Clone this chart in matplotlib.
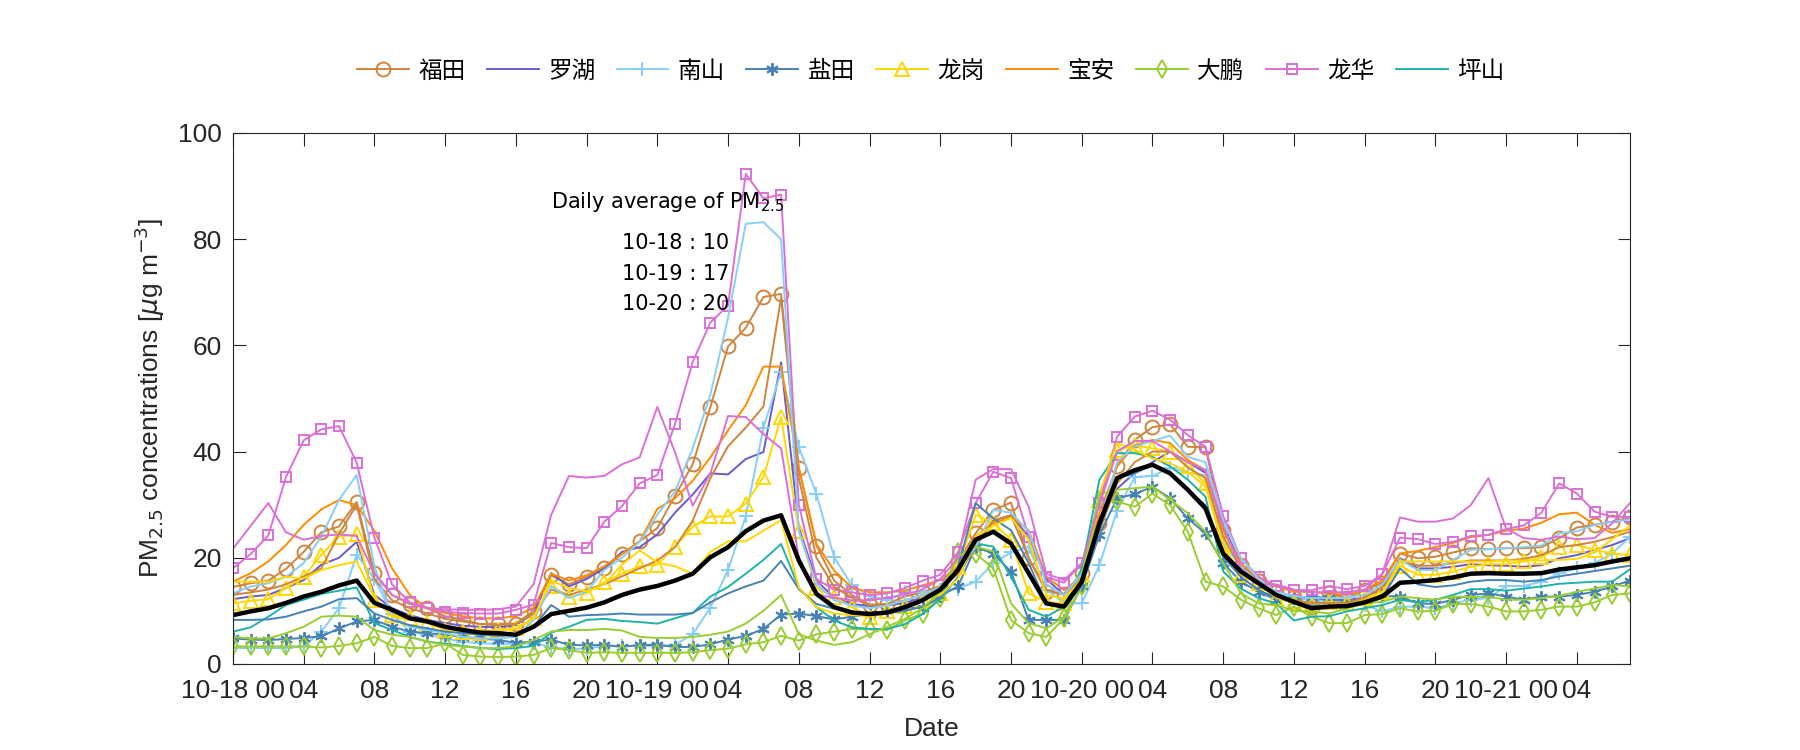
import matplotlib
matplotlib.use("Agg")
import matplotlib.pyplot as plt
import numpy as np

# ---- data (hourly PM2.5, 10-18 00 .. 10-21 07) ----
hours = np.arange(80)
days = ['10-18', '10-19', '10-20', '10-21']

futian = [14.5, 15.2, 15.7, 17.9, 21.1, 24.8, 25.9, 30.5, 17.2,
          13.0, 11.3, 10.5, 9.0, 8.3, 7.5, 7.6, 7.6, 10.0,
          16.7, 15.0, 16.4, 18.0, 20.7, 23.1, 25.6, 31.7, 37.6, 48.4, 59.8, 63.3, 69.1, 69.7,
          36.9, 22.3, 15.7, 13.0, 11.2, 11.3, 12.7, 13.5, 14.7,
          19.3, 24.6, 29.0, 30.4, 19.9, 13.6, 13.2, 17.1, 26.6, 37.3, 42.2, 44.6, 45.1, 40.9, 40.8, 25.2, 18.6, 15.7,
          13.6, 12.7, 10.8, 13.3, 12.4, 13.9, 15.3, 20.8, 19.9, 20.2, 21.0, 21.8, 21.6, 21.8, 21.8, 22.0, 23.7, 25.7, 26.2, 26.8, 27.6]
luohu = [12.2, 12.7, 13.0, 14.3, 15.8, 18.7, 20.0, 23.0, 13.0,
         10.5, 9.2, 8.3, 7.7, 7.2, 7.0, 6.9, 7.3, 9.5,
         17.1, 14.6, 16.0, 18.0, 21.1, 22.0, 24.4, 28.5, 31.9, 35.9, 35.7, 38.6, 39.9, 56.8,
         25.7, 15.7, 12.5, 11.3, 10.9, 11.0, 11.5, 12.5, 14.0,
         18.0, 23.0, 27.0, 28.0, 24.0, 16.0, 13.0, 17.0, 27.0, 33.0, 36.0, 38.0, 40.0, 38.0, 36.0, 26.0, 19.0, 15.0,
         13.5, 12.5, 12.2, 12.0, 12.0, 12.5, 14.0, 19.9, 18.0, 18.0, 18.3, 18.8, 18.6, 18.5, 18.3, 18.6, 19.9, 20.5, 21.5, 22.4, 23.7]
nanshan = [3.0, 3.0, 3.0, 3.0, 3.3, 6.1, 10.5, 20.6, 16.0,
           9.5, 6.1, 5.5, 4.8, 4.2, 3.9, 3.8, 3.8, 3.9,
           3.2, 2.8, 2.9, 3.4, 3.4, 3.4, 3.4, 3.6, 5.6, 10.6, 17.7, 27.8, 44.5, 55.0,
           40.9, 32.0, 20.1, 14.8, 12.8, 12.0, 13.5, 13.5, 13.9,
           14.2, 15.5, 19.0, 21.0, 22.0, 14.0, 11.5, 11.4, 18.6, 28.9, 35.2, 35.4, 37.0, 36.0, 35.6, 22.7, 18.3, 15.5,
           13.3, 12.7, 12.1, 11.7, 11.7, 11.1, 9.9, 10.8, 10.8, 10.5, 11.4, 12.1, 12.4, 14.7, 14.7, 15.5, 17.1, 18.0, 19.0, 20.8, 23.9]
yantian = [4.8, 4.6, 4.5, 4.7, 4.9, 5.2, 6.7, 8.0, 8.3,
           7.0, 6.1, 5.8, 5.5, 5.1, 4.8, 4.5, 4.0, 4.2,
           4.6, 3.6, 3.5, 3.6, 3.2, 3.6, 3.6, 3.2, 3.2, 3.7, 4.6, 5.3, 6.6, 9.3,
           9.5, 9.0, 8.4, 8.9, 9.4, 10.0, 10.7, 10.5, 12.8,
           14.6, 22.0, 20.8, 17.4, 8.3, 8.3, 8.3, 14.6, 24.3, 31.2, 32.0, 33.4, 31.2, 27.4, 24.6, 19.0, 15.5, 13.6,
           12.1, 12.4, 12.7, 12.4, 11.7, 12.1, 12.8, 12.7, 11.4, 11.3, 12.1, 13.0, 13.3, 12.7, 12.1, 12.7, 12.7, 13.0, 13.6, 14.6, 15.7]
longgang = [11.4, 11.9, 12.2, 14.3, 16.4, 20.6, 24.0, 24.4, 12.1,
            9.2, 8.6, 7.7, 6.4, 6.1, 5.9, 6.4, 6.7, 8.6,
            14.7, 12.7, 13.3, 15.4, 17.0, 18.4, 18.7, 22.1, 25.8, 27.8, 27.8, 30.2, 35.2, 46.5,
            25.1, 14.3, 12.7, 10.7, 8.8, 10.0, 11.0, 12.0, 13.3,
            18.3, 28.1, 26.5, 23.4, 13.3, 11.7, 11.4, 16.8, 30.9, 40.3, 41.2, 40.6, 40.0, 37.2, 34.0, 22.4, 16.8, 15.2,
            12.4, 11.7, 11.1, 11.7, 11.4, 12.4, 13.6, 18.5, 16.8, 16.8, 17.4, 18.3, 18.8, 18.8, 19.3, 20.1, 22.0, 22.4, 21.5, 20.8, 20.5]
baoan = [15.5, 17.1, 19.3, 22.4, 26.2, 29.1, 30.9, 29.9, 25.1,
         18.0, 13.0, 10.4, 9.6, 9.0, 8.6, 8.6, 9.0, 10.6,
         17.0, 15.7, 16.7, 18.4, 20.7, 23.1, 29.2, 31.2, 34.5, 38.9, 44.0, 48.7, 56.0, 56.0,
         37.0, 22.6, 17.6, 14.4, 13.5, 13.5, 13.8, 14.8, 15.8,
         18.3, 24.0, 26.5, 27.7, 25.2, 16.4, 13.9, 16.4, 28.4, 37.2, 41.2, 42.2, 41.6, 38.4, 36.5, 25.2, 19.0, 15.8,
         14.6, 13.6, 13.6, 13.3, 13.0, 13.9, 15.8, 20.8, 21.3, 22.0, 22.8, 23.9, 24.3, 25.1, 25.5, 26.6, 28.2, 28.5, 26.2, 24.7, 25.4]
dapeng = [3.3, 3.3, 3.3, 3.3, 3.3, 3.1, 3.4, 3.9, 5.1,
          3.4, 3.0, 3.0, 3.9, 1.7, 1.4, 1.3, 1.4, 1.7,
          3.0, 2.6, 2.1, 2.2, 2.1, 2.1, 2.1, 2.1, 2.2, 2.6, 2.9, 3.7, 4.1, 5.3,
          4.4, 5.6, 6.1, 6.6, 6.5, 6.4, 8.2, 9.5, 12.5,
          21.0, 20.8, 18.0, 8.3, 5.8, 5.1, 8.6, 14.6, 30.9, 30.6, 29.6, 32.1, 29.9, 24.9, 15.5, 14.6, 12.1, 10.5,
          9.2, 10.8, 8.9, 7.7, 7.7, 9.2, 9.4, 10.5, 9.9, 10.0, 11.3, 11.3, 10.8, 9.9, 9.9, 10.2, 10.8, 10.8, 11.6, 13.0, 13.3]
longhua = [18.0, 20.7, 24.2, 35.2, 42.1, 44.2, 44.8, 37.9, 23.8,
           15.0, 11.6, 10.6, 9.8, 9.6, 9.5, 9.5, 10.2, 11.2,
           22.8, 22.0, 21.8, 26.8, 29.7, 34.0, 35.6, 45.2, 56.9, 64.3, 67.5, 92.3, 87.7, 88.4,
           30.0, 16.0, 14.0, 13.5, 13.0, 13.3, 14.3, 15.7, 16.8,
           21.0, 30.3, 36.2, 35.0, 24.0, 16.4, 15.3, 19.0, 30.3, 42.8, 46.6, 47.7, 46.0, 43.1, 40.9, 27.9, 19.9, 16.4,
           14.7, 13.9, 13.9, 14.7, 14.1, 14.7, 16.9, 23.8, 23.5, 22.6, 23.0, 24.1, 24.3, 25.4, 26.1, 28.5, 34.0, 32.1, 28.7, 27.7, 27.7]
pingshan = [6.1, 6.9, 8.9, 11.1, 12.1, 13.2, 13.8, 14.4, 7.7,
            6.4, 5.1, 4.2, 3.8, 3.4, 3.0, 2.8, 3.0, 3.4,
            5.9, 7.0, 8.3, 8.5, 8.1, 7.9, 7.6, 8.6, 9.6, 12.7, 14.5, 17.0, 19.6, 22.6,
            14.4, 10.7, 8.2, 6.9, 6.6, 6.6, 7.5, 9.4, 12.2,
            16.4, 22.7, 22.1, 16.4, 10.2, 8.9, 10.8, 18.0, 34.7, 39.7, 39.7, 39.0, 37.2, 34.7, 31.5, 17.4, 14.2, 12.4,
            11.4, 8.2, 8.9, 9.0, 9.9, 10.5, 11.1, 12.1, 11.6, 12.1, 13.0, 14.1, 14.1, 13.8, 14.2, 14.6, 15.1, 15.3, 15.5, 15.5, 17.8]

# second station in some districts (no legend entry)
futian2 = [13.0, 13.5, 14.0, 15.0, 16.5, 18.0, 24.5, 30.0, 16.0,
           12.0, 10.5, 9.5, 8.5, 8.0, 7.5, 7.3, 7.5, 9.5,
           14.0, 13.0, 14.0, 15.0, 16.5, 18.0, 19.5, 22.0, 27.0, 35.0, 41.0, 44.5, 48.5, 69.0,
           35.0, 20.0, 14.5, 12.5, 11.0, 11.0, 12.0, 13.0, 14.0,
           17.0, 22.0, 27.0, 28.0, 20.0, 14.0, 13.0, 16.0, 25.0, 34.0, 38.0, 40.0, 40.0, 37.0, 35.0, 24.0, 18.0, 15.0,
           13.0, 12.0, 11.5, 11.5, 11.5, 12.5, 14.5, 19.5, 18.5, 18.5, 19.0, 19.5, 19.5, 19.5, 19.8, 20.5, 22.0, 22.4, 23.0, 23.9, 24.9]
nanshan2 = [13.3, 14.6, 15.2, 16.4, 19.0, 24.0, 30.9, 35.6, 18.4,
            9.0, 7.0, 6.4, 5.8, 5.1, 4.8, 4.8, 5.1, 8.3,
            14.6, 12.4, 13.6, 17.7, 20.0, 23.0, 28.1, 32.5, 40.6, 50.7, 65.2, 82.9, 83.2, 80.0,
            25.0, 15.0, 12.0, 11.0, 10.5, 11.0, 12.0, 13.0, 14.5,
            18.0, 22.0, 29.0, 28.5, 25.0, 15.0, 13.0, 17.0, 26.0, 38.0, 41.0, 42.0, 43.0, 39.0, 38.0, 27.0, 20.0, 16.0,
            13.5, 12.8, 12.4, 12.4, 12.5, 13.0, 15.0, 19.6, 17.7, 17.7, 19.6, 21.5, 21.6, 21.8, 22.0, 22.3, 24.6, 25.0, 26.2, 26.8, 27.2]
yantian2 = [8.3, 8.3, 8.4, 8.9, 9.9, 10.8, 12.2, 12.4, 9.5,
            8.3, 7.3, 6.7, 6.1, 5.8, 5.5, 5.3, 5.5, 7.0,
            11.1, 8.9, 9.2, 9.3, 9.5, 9.3, 9.3, 9.3, 9.6, 11.6, 13.3, 14.6, 15.7, 19.4,
            14.1, 11.3, 10.4, 9.7, 9.5, 9.5, 10.0, 10.8, 12.5,
            18.3, 30.3, 27.4, 25.2, 19.0, 11.4, 10.8, 14.6, 25.2, 35.0, 35.9, 37.5, 35.9, 32.8, 29.9, 20.2, 16.4, 13.9,
            12.5, 11.5, 11.0, 11.0, 11.0, 11.5, 12.5, 18.0, 15.0, 14.5, 14.8, 15.5, 15.8, 15.8, 15.5, 15.8, 16.5, 17.0, 17.5, 18.0, 18.5]
longgang2 = [15.5, 15.5, 15.5, 16.4, 16.1, 17.7, 18.6, 19.3, 12.5,
             8.9, 8.3, 7.7, 7.2, 6.6, 6.3, 6.3, 6.6, 8.6,
             15.7, 14.3, 13.7, 15.0, 18.7, 21.4, 19.1, 18.4, 17.0, 21.1, 23.1, 23.1, 25.1, 27.1,
             14.4, 10.7, 9.5, 9.2, 9.0, 9.5, 10.5, 12.0, 13.0,
             16.0, 24.0, 26.0, 27.5, 23.4, 13.0, 12.3, 16.0, 32.0, 41.6, 40.3, 38.7, 37.8, 36.2, 33.4, 22.1, 17.0, 15.0,
             12.5, 11.5, 10.0, 11.0, 11.0, 12.0, 13.5, 19.3, 19.3, 19.3, 19.3, 19.3, 19.3, 19.5, 19.5, 19.5, 19.6, 19.8, 21.0, 23.5, 26.0]
dapeng2 = [5.1, 4.8, 4.8, 5.8, 7.0, 8.9, 9.1, 8.9, 6.4,
           5.5, 5.1, 4.2, 3.6, 3.3, 3.0, 3.0, 3.3, 4.5,
           6.1, 6.4, 6.4, 6.6, 6.3, 5.1, 4.9, 4.9, 5.1, 5.5, 6.1, 7.6, 10.0, 13.0,
           5.6, 4.4, 3.6, 4.1, 5.6, 7.0, 8.5, 10.5, 13.6,
           20.2, 22.1, 21.2, 11.4, 7.7, 6.7, 8.9, 16.4, 32.0, 32.8, 33.1, 33.4, 30.9, 28.4, 24.9, 19.0, 13.3, 11.4,
           11.1, 10.0, 9.9, 9.5, 10.5, 11.4, 11.7, 12.7, 12.4, 12.1, 12.7, 12.6, 12.7, 12.1, 12.1, 12.4, 12.8, 13.6, 14.2, 14.9, 14.6]
longhua2 = [21.7, 26.0, 30.3, 24.8, 23.4, 24.1, 24.4, 24.1, 17.0,
            13.0, 11.5, 10.5, 10.3, 10.2, 10.2, 10.3, 10.8, 15.0,
            28.1, 35.4, 35.1, 35.4, 37.6, 38.9, 48.4, 39.9, 29.8, 35.9, 46.7, 46.5, 43.3, 40.6,
            20.0, 13.0, 12.5, 12.0, 12.0, 12.5, 13.0, 14.0, 16.0,
            20.0, 34.7, 36.7, 36.7, 29.6, 17.0, 15.8, 19.0, 30.0, 40.0, 42.0, 42.0, 40.0, 38.0, 36.5, 26.0, 18.0, 15.0,
            15.0, 14.0, 13.5, 13.5, 13.5, 14.0, 17.0, 27.6, 26.8, 26.8, 27.4, 29.9, 35.0, 25.5, 23.7, 23.4, 24.0, 23.5, 23.7, 26.5, 30.3]

# city mean
mean_all = [9.2, 9.9, 10.5, 11.5, 12.7, 13.6, 14.8, 15.7, 11.5,
            10.2, 8.6, 8.0, 7.0, 6.4, 5.9, 5.8, 5.5, 7.0,
            9.4, 10.0, 10.6, 11.6, 13.0, 14.0, 14.7, 15.7, 17.0, 20.1, 22.0, 25.0, 27.0, 28.0,
            19.5, 13.2, 10.7, 9.7, 9.4, 9.7, 10.7, 12.0, 14.0,
            17.7, 23.4, 24.9, 22.7, 17.1, 11.4, 10.8, 15.5, 26.5, 35.0, 36.5, 37.5, 35.9, 32.8, 29.3, 20.8, 17.4, 15.2,
            13.0, 11.7, 10.5, 10.8, 10.9, 11.6, 12.7, 15.3, 15.5, 15.8, 16.3, 17.0, 17.1, 17.0, 17.0, 17.1, 17.8, 18.2, 18.6, 19.3, 19.9]

daily_avg = [10, 17, 20]

names = ['福田', '罗湖', '南山', '盐田', '龙岗', '宝安', '大鹏', '龙华', '坪山']
series = [futian, luohu, nanshan, yantian, longgang, baoan, dapeng, longhua, pingshan]
colors = ['#CD853F', '#6A5ACD', '#87CEFA', '#4682B4', '#FFD700',
          '#FF8C00', '#9ACD32', '#DA70D6', '#20B2AA']
markers = ['o', None, '+', (6, 2, 0), '^', None, 'd', 's', None]
msizes = [10, 0, 10, 9, 10, 0, 9, 7, 0]

extra = [(futian2, 0), (nanshan2, 2), (yantian2, 3), (longgang2, 4), (dapeng2, 6), (longhua2, 7)]

# ---- fonts ----
cjk = ['Noto Sans CJK SC', 'DejaVu Sans']
plt.rcParams['font.family'] = ['Liberation Sans', 'DejaVu Sans']

fig = plt.figure(figsize=(18, 7.5), dpi=100)
ax = fig.add_axes([0.1294, 0.1147, 0.7761, 0.708])

for vals, c, m, ms, nm in zip(series, colors, markers, msizes, names):
    ax.plot(hours, vals, color=c, lw=1.4, marker=m, ms=ms, mfc='none',
            mew=1.4, label=nm)
for vals, i in extra:
    ax.plot(hours, vals, color=colors[i], lw=1.4, label='_nolegend_')
ax.plot(hours, mean_all, color='black', lw=3.2, label='_nolegend_')

ax.set_xlim(0, 79)
ax.set_ylim(0, 100)
ticks = np.arange(0, 80, 4)
labels = []
for t in ticks:
    if t % 24 == 0:
        labels.append(days[t // 24] + ' 00')
    else:
        labels.append('%02d' % (t % 24))
ax.set_xticks(ticks)
ax.set_xticklabels(labels)
ax.set_yticks(np.arange(0, 101, 20))
ax.tick_params(direction='in', length=9, width=0.8, top=True, right=True,
               labelsize=19, colors='#262626')
ax.tick_params(axis='x', pad=11)
ax.tick_params(axis='y', pad=8)
for sp in ax.spines.values():
    sp.set_color('#262626')
    sp.set_linewidth(0.8)

ax.set_xlabel('Date', fontsize=19, color='#262626', labelpad=10)
ax.set_ylabel(r'PM$_{2.5}$ concentrations [$\mu$g m$^{-3}$]', fontsize=19,
              color='#262626', labelpad=8)

# annotation
ax.text(18, 87, 'Daily average of PM$_{2.5}$', fontsize=15, family='DejaVu Sans',
        va='center', ha='left')
for k, (d, v) in enumerate(zip(days[:3], daily_avg)):
    ax.text(22, 79.3 - k * 5.8, '%s : %d' % (d, v), fontsize=15,
            family='DejaVu Sans', va='center', ha='left')

leg = fig.legend(loc='center', bbox_to_anchor=(0.517, 0.905), ncol=9,
                 frameon=False, prop={'family': cjk, 'size': 17},
                 handlelength=2.2, columnspacing=0.9, handletextpad=0.4)

fig.savefig('out.png', dpi=100)
